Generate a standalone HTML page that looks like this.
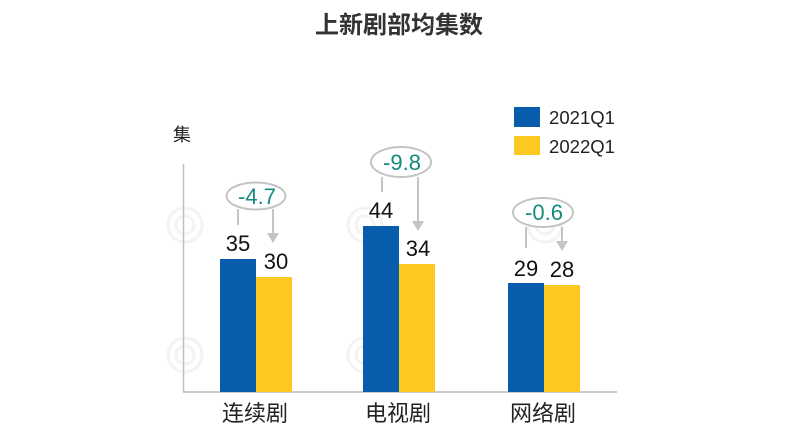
<!DOCTYPE html>
<html><head><meta charset="utf-8">
<style>
html,body{margin:0;padding:0;background:#fff;}
svg{display:block;}
text{font-family:"Liberation Sans","Noto Sans CJK SC",sans-serif;}
</style></head>
<body>
<svg width="800" height="445" viewBox="0 0 800 445" xmlns="http://www.w3.org/2000/svg">
<rect width="800" height="445" fill="#fff"/>
<!-- faint watermark -->
<g fill="none" stroke="#f3f3f3" stroke-width="3">
<circle cx="185" cy="225" r="17"/><circle cx="185" cy="225" r="9"/>
<circle cx="365" cy="225" r="17"/><circle cx="365" cy="225" r="9"/>
<circle cx="185" cy="355" r="17"/><circle cx="185" cy="355" r="9"/>
<circle cx="365" cy="355" r="17"/><circle cx="365" cy="355" r="9"/>
<circle cx="545" cy="225" r="17"/><circle cx="545" cy="225" r="9"/>
<circle cx="545" cy="355" r="17"/><circle cx="545" cy="355" r="9"/>
</g>
<!-- title -->
<text x="399" y="33" font-size="24" font-weight="bold" fill="#333" text-anchor="middle">上新剧部均集数</text>
<!-- y label -->
<text x="182" y="141" font-size="18" fill="#222" text-anchor="middle">集</text>
<!-- axes -->
<line x1="183.5" y1="164" x2="183.5" y2="392" stroke="#c0c0c0" stroke-width="1.5"/>
<line x1="183" y1="392" x2="617" y2="392" stroke="#b8b8b8" stroke-width="1.5"/>
<!-- bars -->
<rect x="220" y="259" width="36" height="133" fill="#075cab"/>
<rect x="256" y="277" width="36" height="115" fill="#fdc820"/>
<rect x="363" y="226" width="36" height="166" fill="#075cab"/>
<rect x="399" y="264" width="36" height="128" fill="#fdc820"/>
<rect x="508" y="283" width="36" height="109" fill="#075cab"/>
<rect x="544" y="285" width="36" height="107" fill="#fdc820"/>
<!-- value labels -->
<g font-size="22" fill="#111" text-anchor="middle">
<text x="238" y="251">35</text>
<text x="276" y="269">30</text>
<text x="381" y="218">44</text>
<text x="418" y="256">34</text>
<text x="526" y="276">29</text>
<text x="562" y="277">28</text>
</g>
<!-- annotations -->
<g stroke="#c4c4c4" stroke-width="2" fill="none">
<ellipse cx="256" cy="196" rx="29.5" ry="13.5" fill="#fff"/>
<line x1="238" y1="209" x2="238" y2="225"/>
<line x1="273" y1="209" x2="273" y2="234"/>
<ellipse cx="401" cy="162" rx="30" ry="15" fill="#fff"/>
<line x1="382" y1="177" x2="382" y2="192"/>
<line x1="418" y1="177" x2="418" y2="222"/>
<ellipse cx="543" cy="212.5" rx="30" ry="14.5" fill="#fff"/>
<line x1="526" y1="227" x2="526" y2="248"/>
<line x1="562" y1="227" x2="562" y2="242"/>
</g>
<g fill="#c4c4c4">
<polygon points="267,233 279,233 273,243"/>
<polygon points="412,221 424,221 418,231"/>
<polygon points="556,241 568,241 562,251"/>
</g>
<g font-size="22" fill="#138a7c" text-anchor="middle">
<text x="257" y="204">-4.7</text>
<text x="402" y="170">-9.8</text>
<text x="544" y="220">-0.6</text>
</g>
<!-- legend -->
<rect x="514" y="107" width="26" height="20" fill="#075cab"/>
<rect x="514" y="136" width="26" height="19" fill="#fdc820"/>
<text x="549" y="124" font-size="18" fill="#222" textLength="66" lengthAdjust="spacingAndGlyphs">2021Q1</text>
<text x="549" y="153" font-size="18" fill="#222" textLength="66" lengthAdjust="spacingAndGlyphs">2022Q1</text>
<!-- categories -->
<g font-size="22" fill="#222" text-anchor="middle">
<text x="255" y="421">连续剧</text>
<text x="398" y="421">电视剧</text>
<text x="543" y="421">网络剧</text>
</g>
</svg>
</body></html>
